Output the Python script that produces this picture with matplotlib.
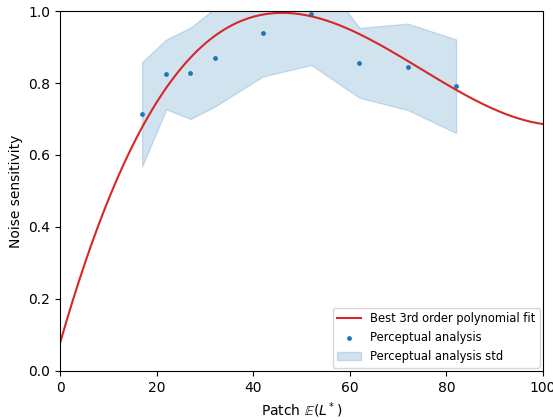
import numpy as np
import matplotlib
matplotlib.use("Agg")
import matplotlib.pyplot as plt

# perceptual analysis (mean and std per patch luminance)
patch_L = [17, 22, 27, 32, 42, 52, 62, 72, 82]
sensitivity = [0.713, 0.824, 0.827, 0.870, 0.938, 0.991, 0.856, 0.845, 0.791]
sensitivity_std = [0.145, 0.097, 0.127, 0.136, 0.120, 0.141, 0.097, 0.120, 0.130]

# cubic fit coefficients, t = L/100
poly_coef = [3.28, -7.356, 4.685, 0.077]

fig = plt.figure(figsize=(5.53, 4.2), dpi=100)
ax = fig.add_axes([0.1085, 0.1167, 0.8735, 0.8571])

x = np.array(patch_L)
y = np.array(sensitivity)
s = np.array(sensitivity_std)

xs = np.linspace(0, 100, 300)
ax.plot(xs, np.polyval(poly_coef, xs / 100), color='tab:red', label='Best 3rd order polynomial fit')
ax.scatter(x, y, s=6, color='tab:blue', label='Perceptual analysis')
ax.fill_between(x, y - s, y + s, color='tab:blue', alpha=0.2, label='Perceptual analysis std')

ax.set_xlim(0, 100)
ax.set_ylim(0, 1)
ax.set_xlabel(r'Patch $\mathbb{E}(L^*)$')
ax.set_ylabel('Noise sensitivity')
ax.legend(loc='lower right', fontsize=8.3, borderaxespad=0.3)

fig.savefig('out.png')
